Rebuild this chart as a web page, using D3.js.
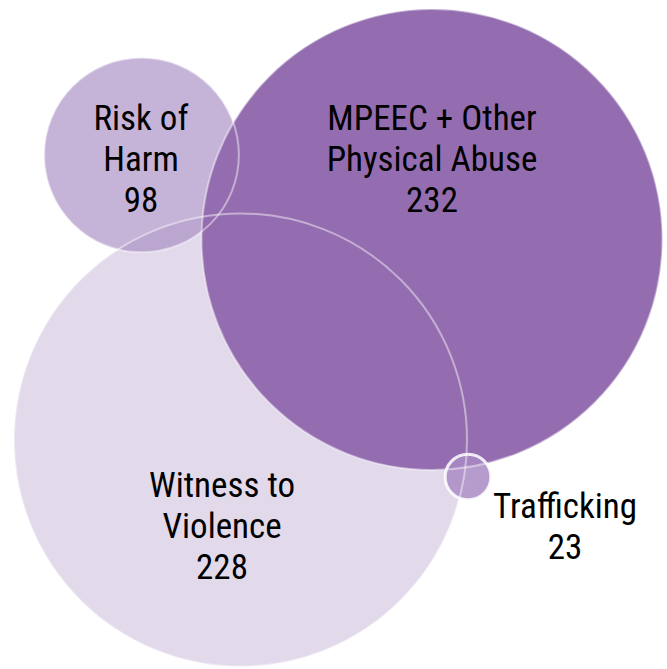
<!DOCTYPE html>
<html><head><meta charset="utf-8">
<script src="https://cdn.jsdelivr.net/npm/d3@7"></script>
<style>html,body{margin:0;padding:0;background:#fff}</style>
</head><body>
<script>
const categories = ["Witness to Violence", "Risk of Harm", "MPEEC + Other Physical Abuse", "Trafficking"];
const values = [228, 98, 232, 23];
const labelLines = [["Witness to", "Violence"], ["Risk of", "Harm"], ["MPEEC + Other", "Physical Abuse"], ["Trafficking"]];

// layout (pixels)
const centers = [[240.5, 440], [141.5, 155], [432, 239.5], [468, 477]];
const labelPos = [[222, 488], [141, 121], [432, 121], [565, 509]];
const fills = ["#e2d9eb", "#a386c0", "#946db0", "#a98bc4"];
const fillOpacity = [1, 0.62, 1, 0.85];

const W = 667, H = 669;
const svg = d3.select("body").append("svg").attr("width", W).attr("height", H);
const r = d3.scaleLinear().domain([0, 232]).range([0, 230.5]);

const data = categories.map((c, i) => ({c, v: values[i], x: centers[i][0], y: centers[i][1], i}));

svg.append("g").selectAll("circle").data(data).join("circle")
  .attr("cx", d => d.x).attr("cy", d => d.y).attr("r", d => r(d.v))
  .attr("fill", d => fills[d.i]).attr("fill-opacity", d => fillOpacity[d.i]);

svg.append("g").selectAll("circle").data(data).join("circle")
  .attr("cx", d => d.x).attr("cy", d => d.y).attr("r", d => r(d.v))
  .attr("fill", "none").attr("stroke", "#fff")
  .attr("stroke-width", d => d.i === 3 ? 3 : 2)
  .attr("stroke-opacity", d => d.i === 3 ? 0.85 : 0.45);

const font = "'Liberation Sans Narrow', 'Roboto Condensed', 'Arial Narrow', sans-serif";
const lab = svg.append("g").selectAll("text").data(data).join("text")
  .attr("text-anchor", "middle")
  .attr("font-family", font).attr("font-size", 35).attr("fill", "#000");
lab.each(function(d) {
  const t = d3.select(this);
  const [lx, ly] = labelPos[d.i];
  const lines = labelLines[d.i].concat([String(d.v)]);
  lines.forEach((s, k) => {
    t.append("tspan").attr("x", lx).attr("y", ly + k * 41).attr("dominant-baseline", "middle").text(s);
  });
});
</script>
</body></html>
